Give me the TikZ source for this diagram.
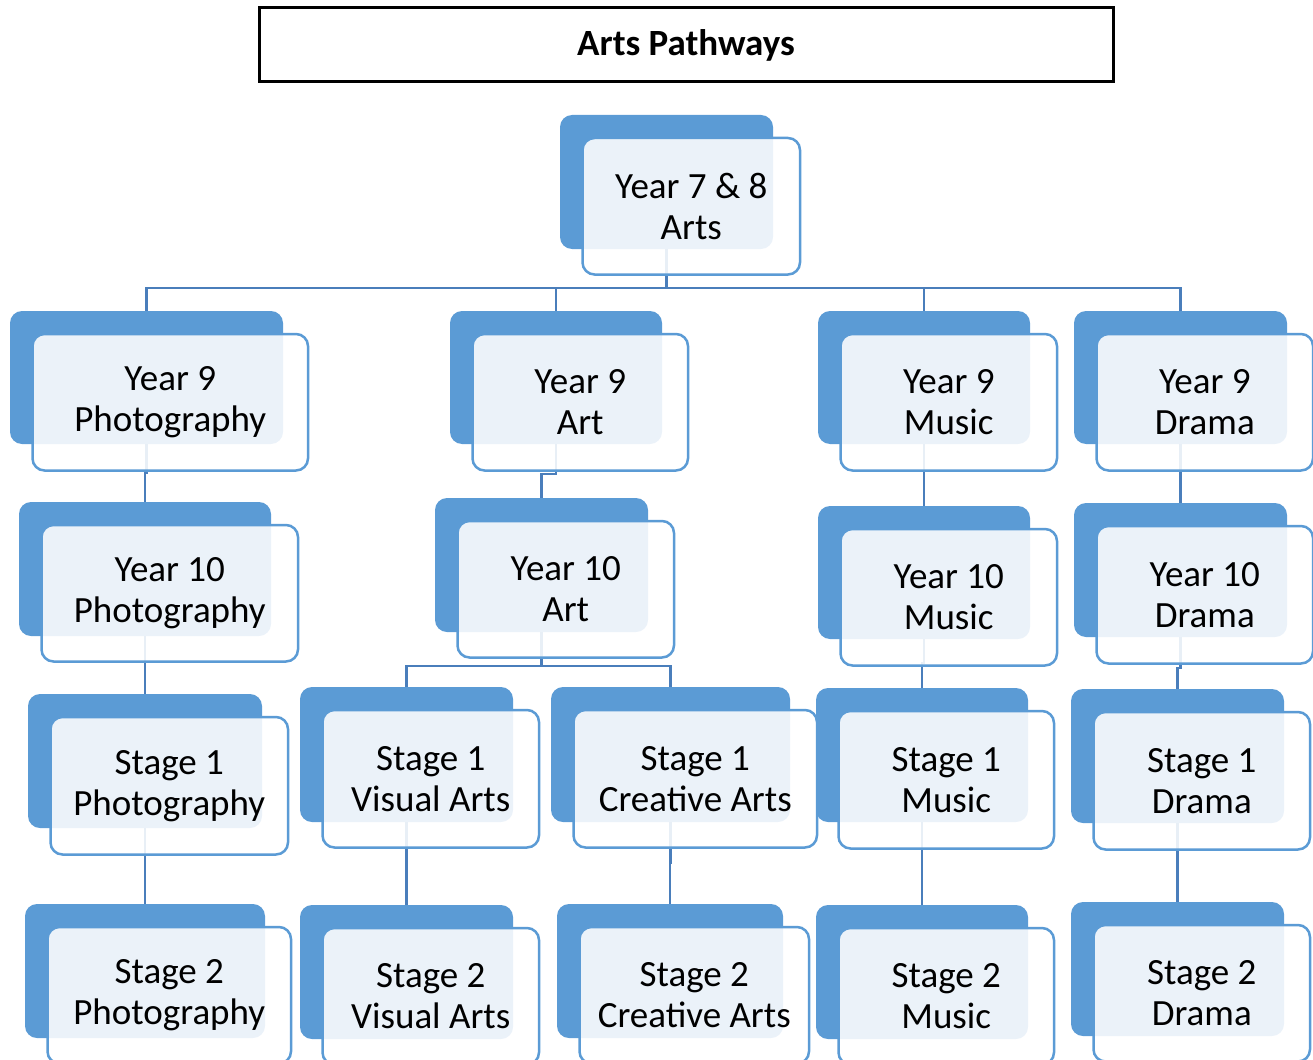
\documentclass[tikz,border=0pt]{standalone}
\usepackage{fontspec}
\setmainfont{Carlito}
\definecolor{backblue}{HTML}{5B9BD5}
\definecolor{edgeblue}{HTML}{5B9BD5}
\definecolor{connblue}{HTML}{4A7EBB}
\pgfdeclarelayer{front}
\pgfsetlayers{main,front}
\tikzset{
  backbox/.style={fill=backblue, draw=none, rounded corners=12pt, inner sep=0pt, outer sep=0pt},
  frontbox/.style={fill=white, fill opacity=0.88, text opacity=1, draw=edgeblue, line width=2.5pt,
    rounded corners=12pt, inner sep=0pt, outer sep=0pt, align=center,
    font=\fontsize{37}{41}\selectfont},
  conn/.style={draw=connblue, line width=2.6pt},
  titlebox/.style={draw=black, line width=3pt, fill=white, inner sep=0pt,
    font=\fontsize{37}{41}\selectfont\bfseries},
}
% \artbox{name}{bx1}{by1}{bx2}{by2}{fx2}{fy2}{text}
\newcommand\artbox[8]{%
  \node[backbox, minimum width={#4-#2}, minimum height={#5-#3}] (#1b) at ({(#2+#4)/2},{(#3+#5)/2}) {};
  \begin{pgfonlayer}{front}
  \node[frontbox, minimum width={#6-#2-22.5}, minimum height={#7-#3-21.5}] (#1) at ({(#2+22.5+#6)/2},{(#3+21.5+#7)/2+1.5}) {#8};
  \end{pgfonlayer}%
}
\begin{document}
\begin{tikzpicture}[x=1pt,y=-1pt]
\useasboundingbox (0,0) rectangle (1313,1059);
\node[titlebox, minimum width=854, minimum height=74] (title) at (686,45) {Arts Pathways};

\artbox{top}{560}{115}{773}{249}{800}{273}{Year 7 \& 8\\Arts}

\artbox{pnine}{10}{311}{283}{444}{308}{469}{Year 9\\Photography}
\artbox{anine}{450}{311}{662}{444}{688}{469}{Year 9\\Art}
\artbox{mnine}{818}{311}{1030}{444}{1057}{469}{Year 9\\Music}
\artbox{dnine}{1074}{311}{1287}{444}{1313}{469}{Year 9\\Drama}

\artbox{pten}{19}{502}{271}{636}{298}{660}{Year 10\\Photography}
\artbox{aten}{435}{498}{648}{632}{674}{656}{Year 10\\Art}
\artbox{mten}{818}{506}{1030}{639}{1057}{664}{Year 10\\Music}
\artbox{dten}{1074}{503}{1287}{637}{1313}{662}{Year 10\\Drama}

\artbox{pone}{28}{694}{262}{828}{288}{853}{Stage 1\\Photography}
\artbox{vone}{300}{687}{513}{822}{539}{846}{Stage 1\\Visual Arts}
\artbox{cone}{551}{687}{790}{822}{817}{846}{Stage 1\\Creative Arts}
\artbox{mone}{816}{688}{1028}{822}{1054}{847}{Stage 1\\Music}
\artbox{done}{1071}{689}{1284}{823}{1310}{848}{Stage 1\\Drama}

\artbox{ptwo}{25}{904}{265}{1038}{291}{1062}{Stage 2\\Photography}
\artbox{vtwo}{300}{905}{513}{1039}{539}{1063}{Stage 2\\Visual Arts}
\artbox{ctwo}{557}{904}{783}{1038}{809}{1062}{Stage 2\\Creative Arts}
\artbox{mtwo}{816}{905}{1028}{1039}{1054}{1063}{Stage 2\\Music}
\artbox{dtwo}{1071}{902}{1284}{1036}{1310}{1060}{Stage 2\\Drama}

% connectors
\foreach \c in {pnine,anine,mnine,dnine}
  \draw[conn] (topb.south) -- (topb.south |- 0,288) -| (\c b.north);

\draw[conn] (pnineb.south) -- (pnineb.south |- 0,473) -| (ptenb.north);
\draw[conn] (ptenb.south) -- (ptenb.south |- 0,665) -| (poneb.north);
\draw[conn] (poneb.south) -- (poneb.south |- 0,866) -| (ptwob.north);

\draw[conn] (anineb.south) -- (anineb.south |- 0,474) -| (atenb.north);
\draw[conn] (atenb.south) -- (atenb.south |- 0,666) -| (voneb.north);
\draw[conn] (atenb.south) -- (atenb.south |- 0,666) -| (coneb.north);
\draw[conn] (voneb.south) -- (voneb.south |- 0,863) -| (vtwob.north);
\draw[conn] (coneb.south) -- (coneb.south |- 0,863) -| (ctwob.north);

\draw[conn] (mnineb.south) -- (mnineb.south |- 0,475) -| (mtenb.north);
\draw[conn] (mtenb.south) -- (mtenb.south |- 0,663) -| (moneb.north);
\draw[conn] (moneb.south) -- (moneb.south |- 0,863) -| (mtwob.north);

\draw[conn] (dnineb.south) -- (dnineb.south |- 0,473) -| (dtenb.north);
\draw[conn] (dtenb.south) -- (dtenb.south |- 0,668) -| (doneb.north);
\draw[conn] (doneb.south) -- (doneb.south |- 0,862) -| (dtwob.north);
\end{tikzpicture}
\end{document}
